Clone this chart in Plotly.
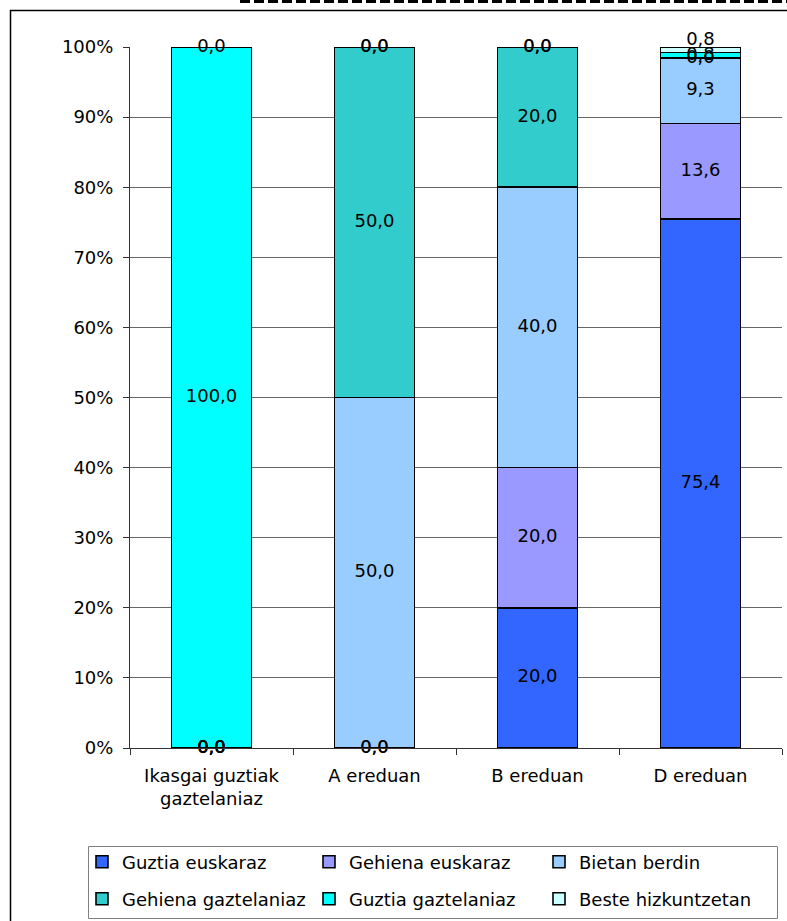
import plotly.graph_objects as go

categories = ["Ikasgai guztiak<br>gaztelaniaz", "A ereduan", "B ereduan", "D ereduan"]
series_names = ["Guztia euskaraz", "Gehiena euskaraz", "Bietan berdin",
                "Gehiena gaztelaniaz", "Guztia gaztelaniaz", "Beste hizkuntzetan"]
guztia_euskaraz = [0.0, 0.0, 20.0, 75.4]
gehiena_euskaraz = [0.0, 0.0, 20.0, 13.6]
bietan_berdin = [0.0, 50.0, 40.0, 9.3]
gehiena_gaztelaniaz = [0.0, 50.0, 20.0, 0.0]
guztia_gaztelaniaz = [100.0, 0.0, 0.0, 0.8]
beste_hizkuntzetan = [0.0, 0.0, 0.0, 0.8]
y_tick_values = [0, 10, 20, 30, 40, 50, 60, 70, 80, 90, 100]
y_tick_labels = [f"{v}%" for v in y_tick_values]

series_values = [guztia_euskaraz, gehiena_euskaraz, bietan_berdin,
                 gehiena_gaztelaniaz, guztia_gaztelaniaz, beste_hizkuntzetan]
colors = ["#3366FF", "#9999FF", "#99CCFF", "#33CCCC", "#00FFFF", "#CCFFFF"]

FONT = "DejaVu Sans"
FS = 18
W, H = 787, 921
L, R, T, B = 130, 5, 47, 173
PW = W - L - R
PH = H - T - B


def px_x(x):
    return (x - L) / PW


def px_y(y):
    return (H - B - y) / PH


def fmt(v):
    return f"{v:.1f}".replace(".", ",")


legend_ids = ["legend", "legend2", "legend3", "legend4", "legend5", "legend6"]
# legend grid: 3 columns x 2 rows (pixel anchors of each entry)
legend_cols_px = [82, 309, 539]
legend_rows_px = [862, 899]

fig = go.Figure()
for i, (name, vals, col) in enumerate(zip(series_names, series_values, colors)):
    fig.add_trace(go.Bar(
        x=categories, y=vals, name=name,
        marker=dict(color=col, line=dict(color="black", width=1.6)),
        legend=legend_ids[i],
        hoverinfo="skip",
    ))

# value labels at the centre of each stacked segment (normalised to 100%)
totals = [sum(s[j] for s in series_values) for j in range(len(categories))]
lab_x, lab_y, lab_t, lab_p = [], [], [], []
for j, cat in enumerate(categories):
    cum = 0.0
    for i, vals in enumerate(series_values):
        v = vals[j]
        h = 100.0 * v / totals[j]
        lab_x.append(cat)
        lab_y.append(cum + h / 2)
        lab_t.append(fmt(v))
        top_thin = (i == len(series_values) - 1 and v > 0)
        lab_p.append("top center" if top_thin else "middle center")
        cum += h

fig.add_trace(go.Scatter(
    x=lab_x, y=lab_y, text=lab_t, mode="text", textposition=lab_p,
    textfont=dict(family=FONT, size=FS, color="black"),
    showlegend=False, hoverinfo="skip", cliponaxis=False,
))

shapes = [
    # outer chart border (extends beyond canvas on right/bottom)
    dict(type="rect", xref="paper", yref="paper",
         x0=px_x(10.5), x1=px_x(W + 20), y0=px_y(H + 20), y1=px_y(10.5),
         line=dict(color="black", width=1.5), fillcolor="rgba(0,0,0,0)", layer="below"),
    # dashed line at very top
    dict(type="line", xref="paper", yref="paper",
         x0=px_x(240), x1=px_x(W + 5), y0=px_y(1.5), y1=px_y(1.5),
         line=dict(color="black", width=3, dash="10px,4px")),
    # legend box
    dict(type="rect", xref="paper", yref="paper",
         x0=px_x(88.5), x1=px_x(777.5), y0=px_y(918.5), y1=px_y(846.5),
         line=dict(color="#808080", width=1), fillcolor="rgba(0,0,0,0)"),
]

legend_common = dict(
    orientation="h", xref="container", yref="container",
    xanchor="left", yanchor="middle",
    font=dict(family=FONT, size=FS, color="black"),
    traceorder="normal", bgcolor="rgba(0,0,0,0)", borderwidth=0,
    itemclick=False, itemdoubleclick=False,
)
legend_layout = {}
for i, lid in enumerate(legend_ids):
    cx = legend_cols_px[i % 3]
    cy = legend_rows_px[i // 3]
    legend_layout[lid] = dict(x=cx / W, y=1 - cy / H, **legend_common)

fig.update_layout(
    width=W, height=H,
    margin=dict(l=L, r=R, t=T, b=B, pad=0, autoexpand=False),
    paper_bgcolor="white", plot_bgcolor="white",
    barmode="stack", barnorm="percent", bargap=0.51,
    font=dict(family=FONT, size=FS, color="black"),
    shapes=shapes,
    xaxis=dict(
        type="category", showline=True, linecolor="#333333", linewidth=1,
        ticks="outside", ticklen=6, tickcolor="#333333", tickson="boundaries",
        showgrid=False, tickfont=dict(family=FONT, size=FS, color="black"),
        ticklabelstandoff=11, fixedrange=True, automargin=False,
    ),
    yaxis=dict(
        range=[0, 100], tickmode="array", tickvals=y_tick_values, ticktext=y_tick_labels,
        showline=True, linecolor="#333333", linewidth=1,
        ticks="outside", ticklen=6, tickcolor="#333333",
        showgrid=True, gridcolor="#666666", gridwidth=1,
        zeroline=False, tickfont=dict(family=FONT, size=FS, color="black"),
        ticklabelstandoff=6, fixedrange=True, automargin=False,
    ),
    **legend_layout,
)

fig.write_html("out.html", config={"displayModeBar": False},
               post_script="document.body.style.margin='0px';")
